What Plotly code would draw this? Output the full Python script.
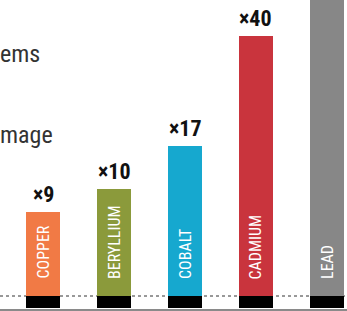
import plotly.graph_objects as go

# ---- data ----
metals = ["COPPER", "BERYLLIUM", "COBALT", "CADMIUM", "LEAD"]
multiplier_labels = ["×9", "×10", "×17", "×40", ""]
bar_heights = [84, 107, 150, 260, 330]   # drawn height of each bar (chart units)
bar_colors = ["#F17A45", "#8B9A3B", "#16A8CF", "#C9343D", "#878787"]
side_notes = ["ems", "mage"]
side_note_levels = [242, 161]

COND = "Liberation Sans Narrow, Roboto Condensed, Roboto, sans-serif"

fig = go.Figure()

# black foot below each bar
fig.add_trace(go.Bar(
    x=metals, y=[12] * len(metals), base=[-12] * len(metals),
    marker=dict(color="#000000", line=dict(width=0)),
    width=0.48, hoverinfo="skip", showlegend=False,
))

fig.add_trace(go.Bar(
    x=metals, y=bar_heights,
    marker=dict(color=bar_colors, line=dict(width=0)),
    width=0.48, showlegend=False,
))

annotations = []
for m, h, lab in zip(metals, bar_heights, multiplier_labels):
    if lab:
        annotations.append(dict(
            x=m, y=h, xref="x", yref="y", text=lab, showarrow=False,
            xanchor="center", yanchor="bottom", yshift=3,
            font=dict(family=COND, size=22, color="#111111", weight="bold"),
        ))
    annotations.append(dict(
        x=m, y=15, xref="x", yref="y", text=m, showarrow=False,
        textangle=-90, xanchor="center", yanchor="bottom",
        font=dict(family=COND, size=16, color="#FFFFFF"),
    ))

for txt, lvl in zip(side_notes, side_note_levels):
    annotations.append(dict(
        x=0, y=lvl, xref="paper", yref="y", text=txt, showarrow=False,
        xanchor="left", yanchor="middle", xshift=-2,
        font=dict(family=COND, size=24, color="#333333"),
    ))

shapes = [
    dict(type="line", xref="paper", yref="y", x0=0, x1=1, y0=0, y1=0,
         line=dict(color="#333333", width=1, dash="dot"), layer="below"),
    dict(type="line", xref="paper", yref="y", x0=0, x1=1, y0=-14, y1=-14,
         line=dict(color="#8A8A8A", width=2), layer="above"),
]

fig.update_layout(
    width=347, height=311,
    margin=dict(l=0, r=0, t=0, b=0),
    paper_bgcolor="white", plot_bgcolor="white",
    barmode="overlay", bargap=0,
    xaxis=dict(range=[-0.606, 4.282], showgrid=False, showticklabels=False,
               zeroline=False, showline=False, ticks=""),
    yaxis=dict(range=[-15, 296], showgrid=False, showticklabels=False,
               zeroline=False, showline=False, ticks=""),
    annotations=annotations,
    shapes=shapes,
)

fig.write_html(
    "out.html",
    config={"displayModeBar": False},
    post_script="document.body.style.margin='0';document.body.style.overflow='hidden';",
)
